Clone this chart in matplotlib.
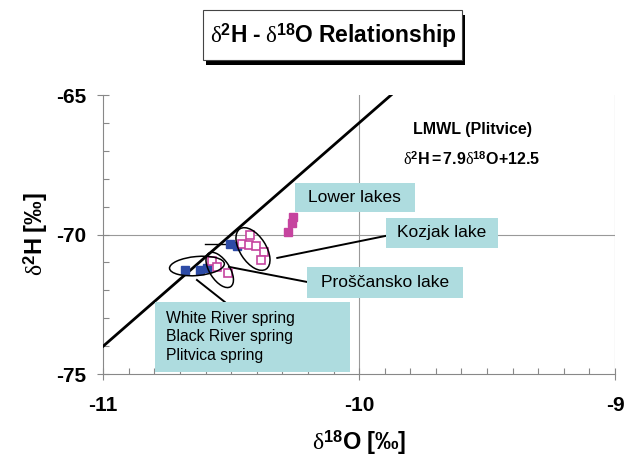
import numpy as np
import matplotlib
matplotlib.use('Agg')
import matplotlib.pyplot as plt
from matplotlib.patches import Rectangle, Ellipse
import matplotlib.transforms as transforms

plt.rcParams['font.family'] = ['Liberation Sans', 'DejaVu Sans']
plt.rcParams['axes.unicode_minus'] = False
plt.rcParams['mathtext.fontset'] = 'custom'
plt.rcParams['mathtext.rm'] = 'Liberation Serif'
plt.rcParams['mathtext.it'] = 'Liberation Serif:italic'
plt.rcParams['mathtext.bf'] = 'Liberation Sans:bold'
plt.rcParams['mathtext.sf'] = 'Liberation Sans'

# springs (White River, Black River, Plitvica)
spring_o18 = [-10.681, -10.622, -10.595, -10.505, -10.478]
spring_h2 = [-71.27, -71.27, -71.20, -70.34, -70.41]
# Kozjak lake
kozjak_o18 = [-10.427, -10.458, -10.431, -10.404, -10.372, -10.384]
kozjak_h2 = [-70.02, -70.34, -70.38, -70.41, -70.63, -70.91]
# Proscansko lake
prosc_o18 = [-10.575, -10.556, -10.513]
prosc_h2 = [-70.95, -71.16, -71.38]
# Lower lakes
lower_o18 = [-10.259, -10.263, -10.279]
lower_h2 = [-69.37, -69.59, -69.91]

# LMWL (Plitvice) as drawn on the chart
lmwl_o18 = [-11.0, -9.875]
lmwl_h2 = [-74.0, -65.0]

xticks = [-11, -10, -9]
yticks = [-75, -70, -65]

blue = '#2d4ba6'
pink = '#c6449f'
boxc = '#aedcdf'

fig = plt.figure(figsize=(6.24, 4.68), dpi=100)
ax = fig.add_axes([103.3 / 624, 1 - 374 / 468, (615 - 103.3) / 624, (374 - 95) / 468])
ax.set_xlim(xticks[0], xticks[-1])
ax.set_ylim(yticks[0], yticks[-1])

# grid lines at the inner major ticks
ax.axhline(-70, color='#999999', lw=0.8, zorder=0)
ax.axvline(-10, color='#999999', lw=0.8, zorder=0)
ax.axvline(-9, color='#999999', lw=0.8, zorder=0)

ax.plot(lmwl_o18, lmwl_h2, color='k', lw=2, zorder=3)

ax.plot(spring_o18, spring_h2, 's', color=blue, ms=6, zorder=4)
ax.plot(kozjak_o18, kozjak_h2, 's', mfc='white', mec=pink, mew=1.2, ms=6, zorder=4)
ax.plot(prosc_o18, prosc_h2, 's', mfc='white', mec=pink, mew=1.2, ms=6, zorder=4)
ax.plot(lower_o18, lower_h2, 's', color=pink, ms=6, zorder=4)


def ring(cx, cy, w, h, ang):
    # ellipse sized in pixels, centred in data coords
    tr = fig.dpi_scale_trans + transforms.ScaledTranslation(cx, cy, ax.transData)
    ax.add_patch(Ellipse((0, 0), w / 100, h / 100, angle=ang, fill=False,
                         ec='k', lw=1.1, transform=tr, zorder=5))


ring(-10.415, -70.52, 48, 26, -57)
ring(-10.545, -71.27, 40, 20, -57)
ring(-10.634, -71.13, 55, 19, 5)

# pointer lines
ax.plot([-10.603, -10.505], [-70.34, -70.34], color='k', lw=1, zorder=2)
ax.plot([-10.634, -10.525], [-71.63, -72.42], color='k', lw=1.4, zorder=2)
ax.plot([-10.32, -9.896], [-70.84, -70.05], color='k', lw=1.4, zorder=2)
ax.plot([-10.509, -10.204], [-71.16, -71.70], color='k', lw=1.4, zorder=2)


def label_box(x0, x1, y0, y1, txt, fs=12.5):
    ax.add_patch(Rectangle((x0, y0), x1 - x0, y1 - y0, fc=boxc, ec='none', zorder=6))
    ax.text((x0 + x1) / 2, (y0 + y1) / 2, txt, ha='center', va='center',
            fontsize=fs, zorder=7)


label_box(-10.251, -9.782, -69.19, -68.15, 'Lower lakes')
label_box(-9.896, -9.459, -70.48, -69.41, 'Kozjak lake')
label_box(-10.204, -9.595, -72.27, -71.16, 'Proščansko lake')
ax.add_patch(Rectangle((-10.798, -74.93), 0.761, 2.51, fc=boxc, ec='none', zorder=6))
ax.text(-10.755, -73.67, 'White River spring\nBlack River spring\nPlitvica spring',
        ha='left', va='center', fontsize=11.3, linespacing=1.3, zorder=7)

ax.text(0.722, 0.875, 'LMWL (Plitvice)', transform=ax.transAxes, ha='center',
        va='center', fontsize=11.5, fontweight='bold')
ax.text(0.720, 0.772, r'$\mathrm{\delta}^{\mathbf{2}}\mathbf{H{=}7.9}\mathrm{\delta}^{\mathbf{18}}\mathbf{O{+}12.5}$',
        transform=ax.transAxes, ha='center', va='center', fontsize=11.5)

# axes styling
for s in ['top', 'right']:
    ax.spines[s].set_visible(False)
for s in ['left', 'bottom']:
    ax.spines[s].set_color('#888888')
    ax.spines[s].set_linewidth(0.8)
ax.set_xticks(xticks)
ax.set_yticks(yticks)
ax.set_xticks(np.arange(-11, -9, 0.1), minor=True)
ax.set_yticks(np.arange(-75, -65, 1), minor=True)
ax.tick_params(which='major', direction='inout', length=9, color='#888888',
               labelsize=15, width=0.8)
ax.tick_params(which='minor', direction='in', length=4, color='#888888', width=0.8)
ax.tick_params(axis='x', which='major', pad=11)
ax.tick_params(axis='y', which='major', pad=8)
for lab in ax.get_xticklabels() + ax.get_yticklabels():
    lab.set_fontweight('bold')

ax.set_xlabel(r'$\mathrm{\delta}^{\mathbf{18}}\mathbf{O\ [‰]}$', fontsize=17, labelpad=10)
ax.set_ylabel(r'$\mathrm{\delta}^{\mathbf{2}}\mathbf{H\ [‰]}$', fontsize=17, labelpad=4)

# title box with shadow
fig.patches.append(Rectangle((206 / 624, 1 - 65 / 468), 259 / 624, 50 / 468,
                             transform=fig.transFigure, fc='black', ec='none'))
fig.patches.append(Rectangle((203 / 624, 1 - 60 / 468), 259 / 624, 50 / 468,
                             transform=fig.transFigure, fc='white', ec='#444444', lw=0.8))
fig.text(333 / 624, 1 - 36 / 468,
         r'$\mathrm{\delta}^{\mathbf{2}}\mathbf{H\ ‐\ }\mathrm{\delta}^{\mathbf{18}}\mathbf{O\ Relationship}$',
         ha='center', va='center', fontsize=16.5)

fig.savefig('out.png', dpi=100)
